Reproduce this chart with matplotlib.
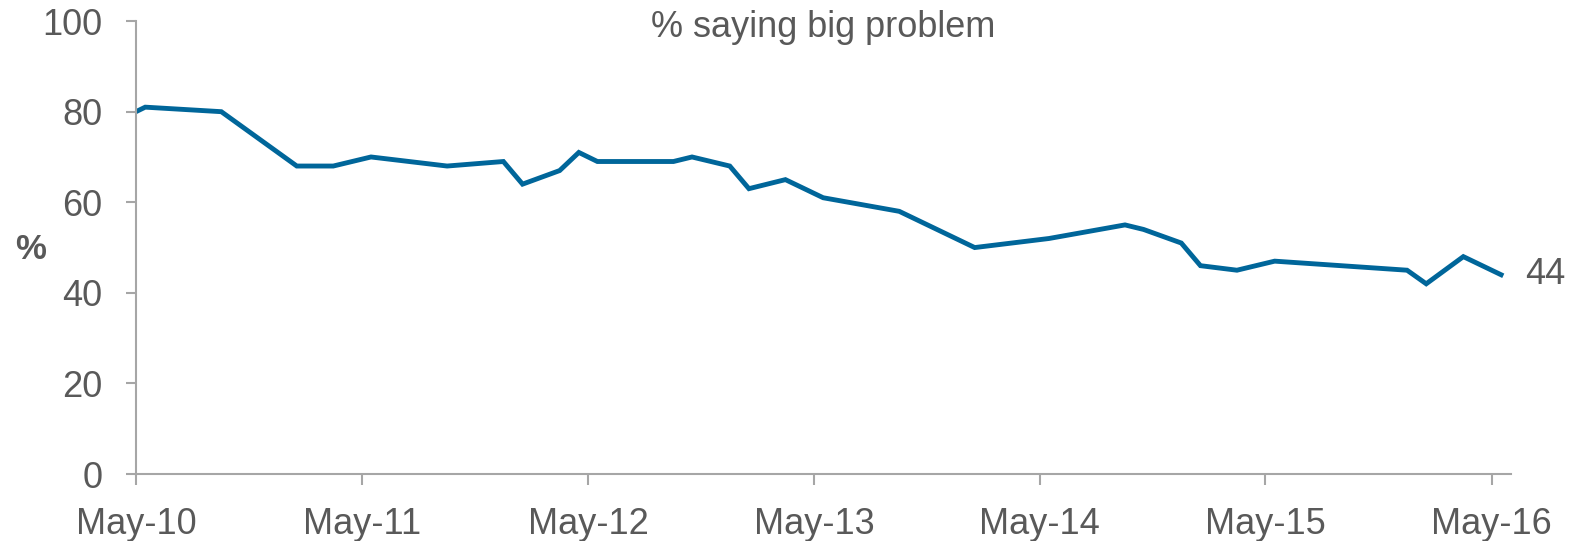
import matplotlib.pyplot as plt
import matplotlib.dates as mdates
import pandas as pd

# survey dates and share saying "big problem"
dates = ["2010-05-01", "2010-05-16", "2010-09-16", "2011-01-16", "2011-03-16",
         "2011-05-16", "2011-09-16", "2011-12-16", "2012-01-16", "2012-03-16",
         "2012-04-16", "2012-05-16", "2012-09-16", "2012-10-16", "2012-12-16",
         "2013-01-16", "2013-03-16", "2013-05-16", "2013-09-16", "2014-01-16",
         "2014-05-16", "2014-09-16", "2014-10-16", "2014-12-16", "2015-01-16",
         "2015-03-16", "2015-05-16", "2015-12-16", "2016-01-16", "2016-03-16",
         "2016-05-16"]
values = [80, 81, 80, 68, 68, 70, 68, 69, 64, 67, 71, 69, 69, 70, 68, 63, 65,
          61, 58, 50, 52, 55, 54, 51, 46, 45, 47, 45, 42, 48, 44]
tick_dates = ["2010-05-01", "2011-05-01", "2012-05-01", "2013-05-01",
              "2014-05-01", "2015-05-01", "2016-05-01"]

x = pd.to_datetime(dates)
ticks = pd.to_datetime(tick_dates)

grey = '#595959'
axis_grey = '#A6A6A6'
plt.rcParams['font.family'] = ['Liberation Sans', 'DejaVu Sans']

fig = plt.figure(figsize=(15.7, 5.41), dpi=100)
ax = fig.add_axes([0.0866, 0.1238, 0.8758, 0.8372])
ax.plot(x, values, color='#00669A', lw=3.5, solid_joinstyle='miter')

ax.set_ylim(0, 100)
ax.set_yticks(range(0, 101, 20))
ax.set_xlim(pd.Timestamp("2010-05-01"), pd.Timestamp("2016-06-01"))
ax.set_xticks(ticks)
ax.xaxis.set_major_formatter(mdates.DateFormatter('%b-%y'))

for s in ['top', 'right']:
    ax.spines[s].set_visible(False)
for s in ['left', 'bottom']:
    ax.spines[s].set_color(axis_grey)
    ax.spines[s].set_linewidth(1.5)
ax.tick_params(axis='both', colors=axis_grey, labelcolor=grey, labelsize=26,
               width=1.5)
ax.tick_params(axis='y', length=7, pad=17)
ax.tick_params(axis='x', length=8, pad=16)

ax.text(0.5, 0.985, '% saying big problem', transform=ax.transAxes,
        ha='center', va='center', fontsize=26, color=grey)
ax.set_ylabel('%', rotation=0, fontsize=25, fontweight='bold', color=grey,
              va='center')
ax.yaxis.set_label_coords(-0.077, 0.495)
ax.annotate(str(values[-1]), (x[-1], values[-1]), xytext=(17, 0),
            textcoords='offset points', va='center', ha='left',
            fontsize=26, color=grey, annotation_clip=False)

fig.savefig('out.png', dpi=100)
